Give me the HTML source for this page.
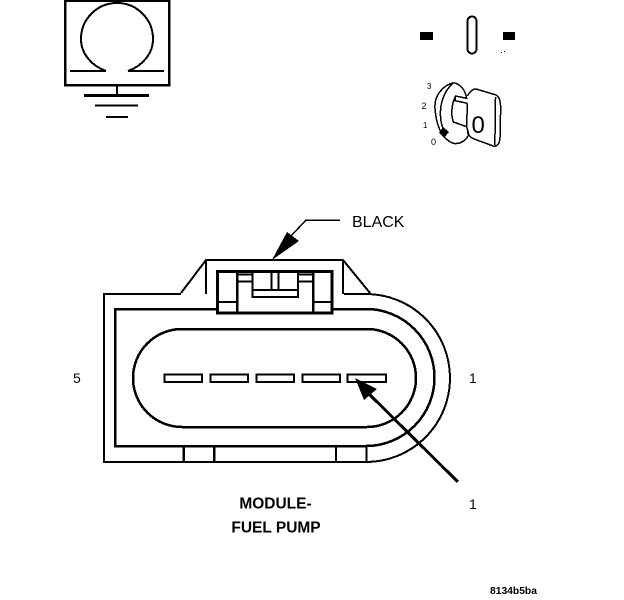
<!DOCTYPE html>
<html>
<head>
<meta charset="utf-8">
<style>
html,body{margin:0;padding:0;background:#fff}
svg{display:block}
text{font-family:"Liberation Sans",sans-serif;fill:#000}
</style>
</head>
<body>
<svg width="624" height="600" viewBox="0 0 624 600" xmlns="http://www.w3.org/2000/svg">
<g fill="none" stroke="#000" shape-rendering="crispEdges">
  <!-- omega box -->
  <path d="M65 0V85H169V0" stroke-width="2.5"/>
  <path d="M65 .8H169" stroke-width="2"/>
  <path d="M70 71H106C92 66 81 54 81 39A36 36 0 0 1 153 39C153 54 142 66 128 71H164" stroke-width="2"/>
  <path d="M117 85V95" stroke-width="2"/>
  <path d="M84 95.500H149" stroke-width="3"/>
  <path d="M95 105.500H138" stroke-width="2"/>
  <path d="M106 117H128" stroke-width="2"/>

  <!-- key position slot -->
  <rect x="467.500" y="16.500" width="9" height="37" rx="4.500" stroke-width="2"/>

  <!-- key -->
  <g transform="translate(410 10) scale(.3333)" stroke-width="4.500" stroke-linejoin="round">
    <path d="M130 218C95 228 72 260 75 295C78 335 90 385 130 400C150 404 172 390 176 372"/>
    <path d="M130 218C100 245 88 285 92 325C94 345 98 355 104 364"/>
    <path d="M130 218C150 222 165 238 170 265L137 258C125 280 122 315 130 336L170 350L176 372"/>
    <path d="M137 258L135 272L172 280"/>
    <path d="M172 258C178 248 188 236 198 237L258 255C268 260 272 275 272 295L270 385C268 402 262 410 250 408L195 388C182 384 175 375 172 365"/>
    <path d="M258 262C252 275 258 300 256 340L254 405"/>
    <path d="M172 280L170 350"/>
  </g>

  <!-- connector body -->
  <path d="M181 294H104V462H366A84 84 0 0 0 366 294H344" stroke-width="2"/>
  <path d="M217 309H115V446H366A68.500 68.500 0 0 0 366 309H332" stroke-width="2.500"/>
  <path d="M182 329H367A49 49 0 0 1 367 427H182A49 49 0 0 1 182 329Z" stroke-width="2.500"/>

  <!-- bottom tabs -->
  <path d="M183.500 446V462M214 446V462" stroke-width="2.500"/>
  <path d="M336 446V462M366.500 446V462" stroke-width="2"/>

  <!-- pins -->
  <rect x="164.500" y="374.500" width="37.500" height="7.500" stroke-width="2"/>
  <rect x="210.500" y="374.500" width="37.500" height="7.500" stroke-width="2"/>
  <rect x="256.500" y="374.500" width="37.500" height="7.500" stroke-width="2"/>
  <rect x="302.500" y="374.500" width="37.500" height="7.500" stroke-width="2"/>
  <rect x="347.500" y="374.500" width="38.500" height="7.500" stroke-width="2"/>

  <!-- top housing -->
  <path d="M181 293L206 260H343L370 293" stroke-width="2"/>
  <path d="M206 260V294M343 260V294" stroke-width="2"/>

  <!-- latch -->
  <rect x="217.500" y="271.500" width="114.500" height="41.500" stroke-width="3"/>
  <path d="M237 271V313M313 271V313" stroke-width="2.500"/>
  <path d="M217 302H237M313 302H332" stroke-width="2"/>
  <path d="M252.500 271V297H298V271" stroke-width="2"/>
  <path d="M252 290H298" stroke-width="2"/>
  <path d="M271.500 271V290M278.500 271V290" stroke-width="2"/>
  <path d="M237 274.500H252M298 274.500H313M237 281.500H252M298 281.500H313" stroke-width="2"/>

  <!-- leader lines -->
  <path d="M340 220H306L291 236" stroke-width="1.500"/>
  <path d="M458 482L366 391" stroke-width="3"/>
</g>

<g fill="#000" shape-rendering="crispEdges">
  <rect x="420" y="32" width="13" height="8"/>
  <rect x="503" y="32" width="12" height="8"/>
  <rect x="501" y="52" width="1" height="1"/>
  <rect x="504" y="51" width="1" height="1"/>
  <path d="M443 127L449 132L444 138L439 133Z"/>
  <path d="M272 260L287 232L299 241Z"/>
  <path d="M355 378L377 389L364 400Z"/>
</g>

<!-- labels -->
<text x="352" y="227" font-size="16">BLACK</text>
<text x="73" y="383" font-size="14">5</text>
<text x="469" y="383" font-size="14">1</text>
<text x="469" y="509" font-size="14">1</text>
<text x="275.500" y="508.500" font-size="15.500" font-weight="bold" text-anchor="middle">MODULE-</text>
<text x="276" y="532.500" font-size="15.500" font-weight="bold" text-anchor="middle">FUEL PUMP</text>
<text x="490" y="594" font-size="10.300" font-weight="bold">8134b5ba</text>
<text x="427" y="89" font-size="8">3</text>
<text x="421.500" y="109" font-size="9">2</text>
<text x="423" y="128" font-size="8">1</text>
<text x="431" y="145" font-size="9">0</text>
<text x="471.500" y="133" font-size="24">0</text>
</svg>
</body>
</html>
